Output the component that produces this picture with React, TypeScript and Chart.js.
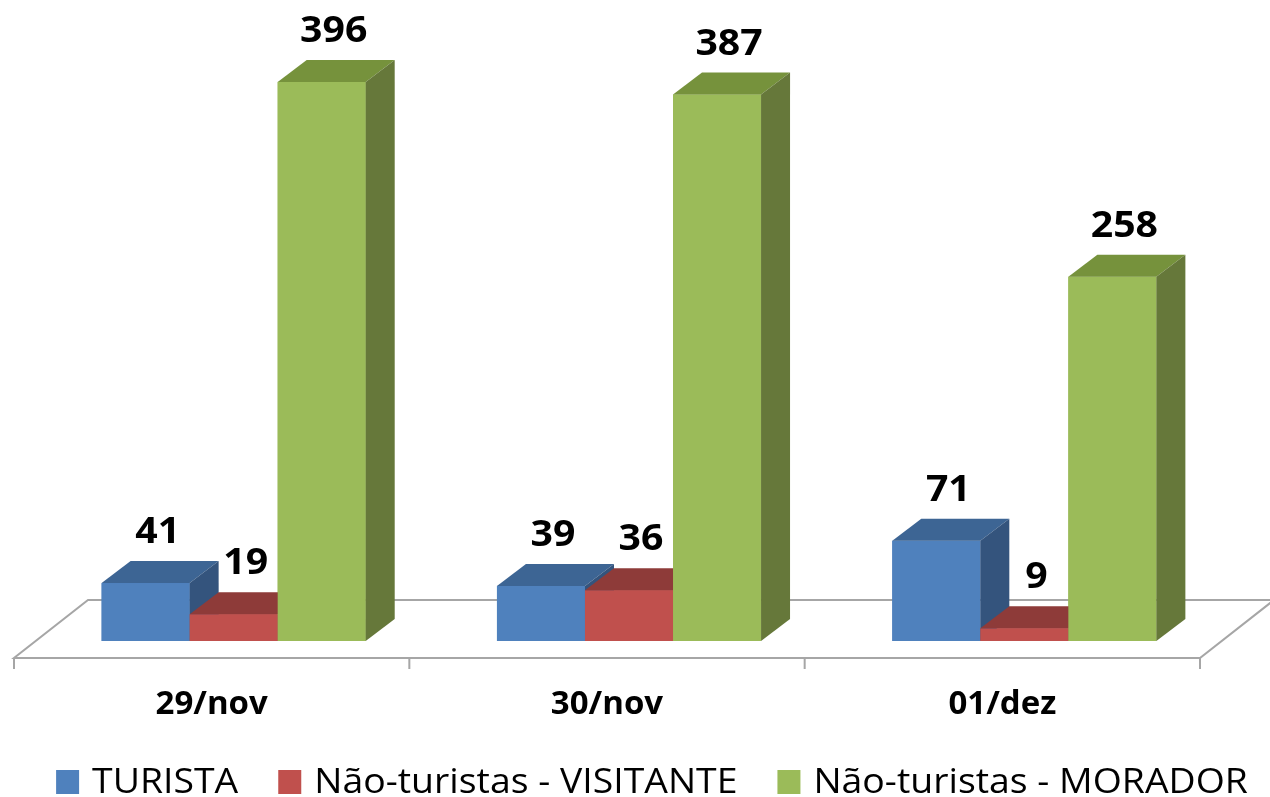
import React, { useEffect, useRef } from "react";
import { Chart, registerables } from "chart.js";

Chart.register(...registerables);

const categories = ["29/nov", "30/nov", "01/dez"];
const seriesNames = ["TURISTA", "Não-turistas - VISITANTE", "Não-turistas - MORADOR"];
const turista = [41, 39, 71];
const visitante = [19, 36, 9];
const morador = [396, 387, 258];

const frontColors = ["#4F81BD", "#C0504D", "#9BBB59"];
const topColors = ["#3D6594", "#8E3B39", "#76923C"];
const sideColors = ["#34547D", "#8A3735", "#66783A"];

const DX = 29;
const DY = -22;
const FONT = "'Open Sans', 'Liberation Sans', sans-serif";

function stretchText(ctx: any, s: string, x: number, y: number, sx: number, align: string) {
  const w = ctx.measureText(s).width * sx;
  let left = x;
  if (align === "center") left = x - w / 2;
  ctx.save();
  ctx.textAlign = "left";
  ctx.translate(left, y);
  ctx.scale(sx, 1);
  ctx.fillText(s, 0, 0);
  ctx.restore();
  return w;
}

const threeD = {
  id: "threeD",
  beforeDatasetsDraw(chart: any) {
    const ctx = chart.ctx;
    const area = chart.chartArea;
    const base = chart.scales.y.getPixelForValue(0);
    const fy = base + 17;
    const by = base - 41;
    const fl = area.left - 22;
    const fr = area.right - 22;
    const bl = area.left + 52;
    const br = area.right + 52;
    ctx.save();
    ctx.strokeStyle = "#A6A6A6";
    ctx.lineWidth = 2;
    ctx.beginPath();
    ctx.moveTo(fl, fy);
    ctx.lineTo(fr, fy);
    ctx.lineTo(br, by);
    ctx.lineTo(bl, by);
    ctx.closePath();
    ctx.stroke();
    const n = categories.length;
    const cw = (fr - fl) / n;
    ctx.beginPath();
    for (let i = 0; i <= n; i++) {
      const x = fl + i * cw;
      ctx.moveTo(x, fy);
      ctx.lineTo(x, fy + 11);
    }
    ctx.stroke();
    ctx.restore();
  },
  afterDatasetsDraw(chart: any) {
    const ctx = chart.ctx;
    const n = categories.length;
    const nd = chart.data.datasets.length;
    ctx.save();
    for (let i = 0; i < n; i++) {
      for (let d = 0; d < nd; d++) {
        const el = chart.getDatasetMeta(d).data[i] as any;
        const l = el.x - el.width / 2;
        const r = el.x + el.width / 2;
        const t = el.y;
        const b = el.base;
        ctx.fillStyle = frontColors[d];
        ctx.fillRect(l, t, r - l, b - t);
        ctx.fillStyle = topColors[d];
        ctx.beginPath();
        ctx.moveTo(l, t);
        ctx.lineTo(r, t);
        ctx.lineTo(r + DX, t + DY);
        ctx.lineTo(l + DX, t + DY);
        ctx.closePath();
        ctx.fill();
        ctx.fillStyle = sideColors[d];
        ctx.beginPath();
        ctx.moveTo(r, t);
        ctx.lineTo(r + DX, t + DY);
        ctx.lineTo(r + DX, b + DY);
        ctx.lineTo(r, b);
        ctx.closePath();
        ctx.fill();
      }
    }
    // value labels
    ctx.fillStyle = "#000000";
    ctx.font = `bold 35px ${FONT}`;
    ctx.textBaseline = "middle";
    for (let d = 0; d < nd; d++) {
      const meta = chart.getDatasetMeta(d);
      const vals = chart.data.datasets[d].data;
      meta.data.forEach((el: any, i: number) => {
        stretchText(ctx, String(vals[i]), el.x + 12, el.y - 50, 1.12, "center");
      });
    }
    // category labels
    const xs = chart.scales.x;
    const base = chart.scales.y.getPixelForValue(0);
    ctx.font = `bold 33px ${FONT}`;
    ctx.textAlign = "center";
    categories.forEach((c, i) => {
      ctx.fillText(c, xs.getPixelForValue(i) - 22, base + 64);
    });
    // legend
    ctx.font = `34px ${FONT}`;
    ctx.textAlign = "left";
    const sx = 1.1;
    const box = 23;
    const gapText = 13;
    const gapItem = 40;
    const widths = seriesNames.map((s) => ctx.measureText(s).width * sx);
    const total = widths.reduce((a, w) => a + box + gapText + w, 0) + gapItem * (seriesNames.length - 1);
    let x = 652 - total / 2;
    const ly = 782;
    seriesNames.forEach((s, k) => {
      ctx.fillStyle = frontColors[k];
      ctx.fillRect(x, ly - 12, box, 24);
      x += box + gapText;
      ctx.fillStyle = "#000000";
      stretchText(ctx, s, x, ly + 1, sx, "left");
      x += widths[k] + gapItem;
    });
    ctx.restore();
  },
};

export default function App() {
  const ref = useRef<HTMLCanvasElement | null>(null);
  useEffect(() => {
    if (!ref.current) return;
    const chart = new Chart(ref.current, {
      type: "bar",
      data: {
        labels: categories,
        datasets: [
          { label: seriesNames[0], data: turista, backgroundColor: frontColors[0] },
          { label: seriesNames[1], data: visitante, backgroundColor: frontColors[1] },
          { label: seriesNames[2], data: morador, backgroundColor: frontColors[2] },
        ],
      },
      options: {
        responsive: false,
        animation: false,
        layout: { padding: { left: 36, right: 48, top: 48, bottom: 156 } },
        datasets: { bar: { barPercentage: 1, categoryPercentage: 0.668 } },
        scales: {
          x: { display: false },
          y: { display: false, min: 0, max: 420 },
        },
        plugins: { legend: { display: false }, tooltip: { enabled: false } },
      },
      plugins: [threeD],
    });
    return () => chart.destroy();
  }, []);
  return (
    <div style={{ position: "absolute", left: 0, top: 0, width: 1270, height: 797, background: "#fff" }}>
      <canvas ref={ref} width={1270} height={797} />
    </div>
  );
}
